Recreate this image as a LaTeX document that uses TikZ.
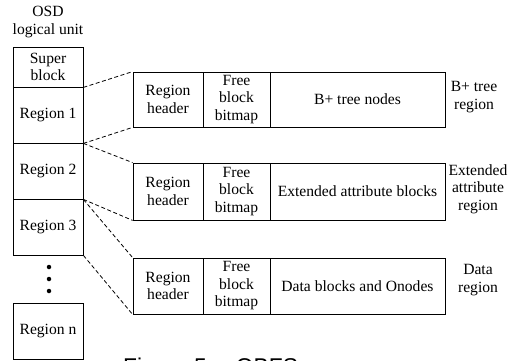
\documentclass[tikz,border=0pt]{standalone}
\usepackage{fontspec}
\setmainfont{Liberation Serif}
\newfontfamily\capfont{Liberation Sans}
\begin{document}
\begin{tikzpicture}[x=1pt,y=-1pt,
  every node/.style={font=\fontsize{15.6}{17.5}\selectfont, align=center, inner sep=0pt},
  cell/.style={draw, line width=0.8pt, minimum width=#1},
  dashline/.style={line width=0.8pt, dash pattern=on 4pt off 2.5pt},
  dotmark/.style={circle, fill, minimum size=4.5pt}
]
\useasboundingbox (0,0) rectangle (511,361);
% left column
\node (osd) at (48,22) {OSD\\logical unit};
\node[cell=70pt, minimum height=40pt] (sb) at (48,67) {Super\\block};
\node[cell=70pt, minimum height=56pt] (r1) at (48,115) {Region 1};
\node[cell=70pt, minimum height=56pt] (r2) at (48,171) {Region 2};
\node[cell=70pt, minimum height=56pt] (r3) at (48,227) {Region 3};
\node[dotmark] (d1) at (49,267) {};
\node[dotmark] (d2) at (49,279) {};
\node[dotmark] (d3) at (49,291) {};
\node[cell=70pt, minimum height=56pt] (rn) at (48,331) {Region n};
% box 1
\node[cell=70pt, minimum height=55pt] (h1) at (168,99.5) {Region\\header};
\node[cell=67pt, minimum height=55pt] (f1) at (236.5,99.5) {Free\\block\\bitmap};
\node[cell=175pt, minimum height=55pt] (b1) at (357.5,99.5) {B+ tree nodes};
\node (l1) at (474,97) {B+ tree\\region};
% box 2
\node[cell=70pt, minimum height=57pt] (h2) at (168,191.5) {Region\\header};
\node[cell=67pt, minimum height=57pt] (f2) at (236.5,191.5) {Free\\block\\bitmap};
\node[cell=175pt, minimum height=57pt] (b2) at (357.5,191.5) {Extended attribute blocks};
\node (l2) at (478,189) {Extended\\attribute\\region};
% box 3
\node[cell=70pt, minimum height=56pt] (h3) at (168,286) {Region\\header};
\node[cell=67pt, minimum height=56pt] (f3) at (236.5,286) {Free\\block\\bitmap};
\node[cell=175pt, minimum height=56pt] (b3) at (357.5,286) {Data blocks and Onodes};
\node (l3) at (478,280) {Data\\region};
% connectors
\draw[dashline] (sb.south east) -- (h1.north west);
\draw[dashline] (r1.south east) -- (h1.south west);
\draw[dashline] (r1.south east) -- (h2.north west);
\draw[dashline] (r2.south east) -- (h2.south west);
\draw[dashline] (r2.south east) -- (h3.north west);
\draw[dashline] (r3.south east) -- (h3.south west);
% caption (cut off at the bottom edge)
\node[anchor=base west, font=\capfont\fontsize{22.8}{26}\selectfont] (cap) at (123,374) {Figure 5:\quad OBFS};
\end{tikzpicture}
\end{document}
